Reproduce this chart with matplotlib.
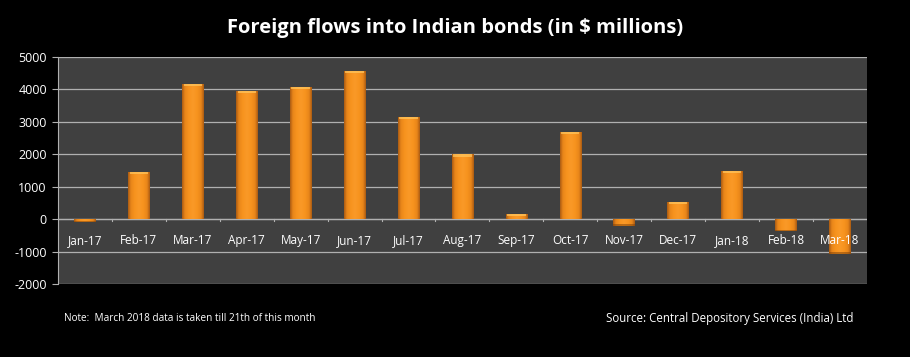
import matplotlib
matplotlib.use("Agg")
import matplotlib.pyplot as plt
import numpy as np
from matplotlib.colors import LinearSegmentedColormap

months = ["Jan-17", "Feb-17", "Mar-17", "Apr-17", "May-17", "Jun-17", "Jul-17", "Aug-17",
          "Sep-17", "Oct-17", "Nov-17", "Dec-17", "Jan-18", "Feb-18", "Mar-18"]
flows = [-100, 1450, 4170, 3960, 4070, 4560, 3145, 2000, 165, 2680, -200, 525, 1490, -380, -1060]
yticks = [-2000, -1000, 0, 1000, 2000, 3000, 4000, 5000]

title = "Foreign flows into Indian bonds (in $ millions)"
note = "Note:  March 2018 data is taken till 21th of this month"
source = "Source: Central Depository Services (India) Ltd"

plt.rcParams['font.family'] = ['Open Sans', 'DejaVu Sans']

fig = plt.figure(figsize=(9.1, 3.57), dpi=100, facecolor='black')
ax = fig.add_axes([0.0637, 0.2045, 0.889, 0.636])
ax.set_facecolor('#404040')

x = np.arange(len(months))
width = 0.4
bars = ax.bar(x, flows, width=width, color='#f7931e', zorder=3, edgecolor='none')

cmap = LinearSegmentedColormap.from_list(
    'o', [(0.0, '#a85a12'), (0.12, '#e8851a'), (0.3, '#f7931e'), (0.5, '#fa9a28'),
          (0.7, '#f7931e'), (0.88, '#e8851a'), (1.0, '#a85a12')])
grad = np.linspace(0, 1, 64).reshape(1, -1).repeat(2, axis=0)
for b in bars:
    x0 = b.get_x(); w = b.get_width()
    y0 = b.get_y(); h = b.get_height()
    ylo, yhi = min(y0, y0 + h), max(y0, y0 + h)
    im = ax.imshow(grad, extent=[x0, x0 + w, ylo, yhi], aspect='auto', cmap=cmap,
                   zorder=4, interpolation='bicubic')
    im.set_clip_path(b)
    cap = 70
    if h >= 0:
        ax.fill_between([x0 + 0.03, x0 + w - 0.03], yhi - cap, yhi, color='#ffc860', alpha=0.7, zorder=5, lw=0)
    else:
        ax.fill_between([x0, x0 + w], ylo, ylo + 40, color='#7a3e08', alpha=0.5, zorder=5, lw=0)

ax.set_xlim(-0.5, len(months) - 0.5)
ax.set_ylim(-2000, 5000)
ax.set_yticks(yticks)
ax.set_yticklabels([str(v) for v in yticks], color='white', fontsize=9)
ax.yaxis.grid(True, color='#b0b0b0', linewidth=0.9, zorder=1)
ax.set_axisbelow(True)
ax.tick_params(axis='y', length=4, color='#b0b0b0', pad=4)

ax.set_xticks([])
ax.axhline(0, color='#b0b0b0', linewidth=0.9, zorder=2)
for b in np.arange(0.5, len(months) - 0.5, 1):
    ax.plot([b, b], [0, -60], color='#b0b0b0', linewidth=0.8, zorder=2)
for xi, m in zip(x, months):
    ax.text(xi, -660, m, ha='center', va='center', color='white', fontsize=8.5, zorder=6)

for s in ['top', 'right', 'bottom']:
    ax.spines[s].set_visible(False)
ax.spines['left'].set_color('#b0b0b0')

fig.text(0.5, 0.922, title, ha='center', va='center', color='white', fontsize=14.5, fontweight='bold')
fig.text(0.070, 0.108, note, ha='left', va='center', color='white', fontsize=7.2)
fig.text(0.938, 0.108, source, ha='right', va='center', color='white', fontsize=8.3)

fig.savefig('out.png', dpi=100, facecolor='black')
